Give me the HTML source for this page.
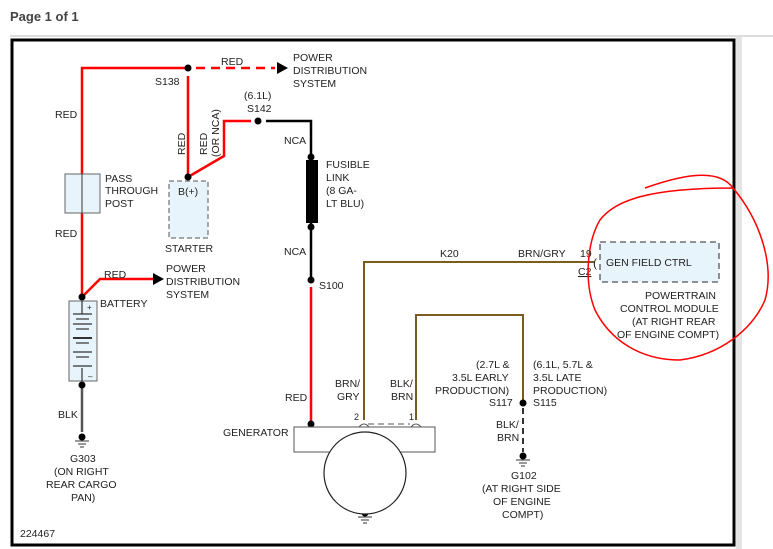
<!DOCTYPE html>
<html><head><meta charset="utf-8"><style>
html,body{margin:0;padding:0;background:#fff;width:773px;height:549px;overflow:hidden}
svg{display:block}
text{font-family:"Liberation Sans",sans-serif;font-size:10.5px;fill:#222}
</style></head><body>
<svg width="773" height="549" viewBox="0 0 773 549" xmlns="http://www.w3.org/2000/svg">
<rect width="773" height="549" fill="#fff"/>
<text x="10" y="21" style="font-size:13px;font-weight:bold;fill:#444">Page 1 of 1</text>
<line x1="10" y1="36" x2="773" y2="36" stroke="#ddd" stroke-width="2"/>
<rect x="736" y="37" width="6" height="512" fill="#e4e4e4"/>
<rect x="12" y="40" width="722" height="505" fill="none" stroke="#000" stroke-width="3"/>

<g stroke="#f00" stroke-width="2.5" fill="none">
<polyline points="82,297 82,68 188,68"/>
<line x1="196" y1="68" x2="275" y2="68" stroke-dasharray="9,6"/>
<line x1="188" y1="76" x2="188" y2="177"/>
<polyline points="188,177 224,156 224,121 251,121"/>
<line x1="311" y1="287" x2="311" y2="424"/>
<polyline points="82,297 100,279 155,279"/>
</g>
<polygon points="277,62 288,68 277,74" fill="#000"/>
<polygon points="153,273 164,279 153,285" fill="#000"/>
<g stroke="#000" stroke-width="2.5" fill="none">
<polyline points="266,121 311,121 311,279"/>
</g>
<rect x="306" y="160" width="12" height="63" fill="#000"/>
<line x1="82" y1="385" x2="82" y2="432" stroke="#555" stroke-width="2.5"/>
<g stroke="#7a5c1e" stroke-width="2" fill="none">
<polyline points="364,420 364,262 594,262"/>
<polyline points="416,420 416,315 523,315 523,403"/>
</g>
<line x1="523" y1="408" x2="523" y2="452" stroke="#333" stroke-width="2" stroke-dasharray="6,4"/>

<g fill="#000">
<circle cx="188" cy="68" r="3.5"/><circle cx="188" cy="177" r="3.5"/>
<circle cx="258" cy="121" r="3.5"/><circle cx="311" cy="157" r="3.5"/>
<circle cx="311" cy="227" r="3.5"/><circle cx="311" cy="280" r="3.5"/>
<circle cx="311" cy="424" r="3.5"/><circle cx="82" cy="297" r="3.5"/>
<circle cx="82" cy="385" r="3.5"/><circle cx="82" cy="193" r="3"/>
<circle cx="523" cy="403" r="3.5"/>
<circle cx="82" cy="437" r="3.5"/><circle cx="523" cy="456" r="3.5"/><circle cx="365" cy="513" r="3.5"/>
</g>
<g stroke="#333" stroke-width="1">
<line x1="75" y1="441" x2="89" y2="441"/><line x1="78" y1="444" x2="86" y2="444"/><line x1="80" y1="447" x2="84" y2="447"/>
<line x1="516" y1="460" x2="530" y2="460"/><line x1="519" y1="463" x2="527" y2="463"/><line x1="521" y1="466" x2="525" y2="466"/>
<line x1="358" y1="517" x2="372" y2="517"/><line x1="361" y1="520" x2="369" y2="520"/><line x1="363" y1="523" x2="367" y2="523"/>
</g>

<rect x="65" y="174" width="35" height="39" fill="#e8f4fc" stroke="#666"/>
<line x1="82" y1="174" x2="82" y2="213" stroke="#333"/>
<rect x="169" y="181" width="39" height="57" fill="#e8f4fc" stroke="#555" stroke-dasharray="5,3"/>
<rect x="69" y="301" width="28" height="80" fill="#e8f4fc" stroke="#666"/>
<g stroke="#333" stroke-width="1.2">
<line x1="82" y1="301" x2="82" y2="314"/><line x1="73" y1="314" x2="92" y2="314"/>
<line x1="76" y1="319" x2="89" y2="319"/><line x1="73" y1="324" x2="92" y2="324"/>
<line x1="76" y1="329" x2="89" y2="329"/><line x1="73" y1="338" x2="92" y2="338" stroke-width="2"/>
<line x1="76" y1="343" x2="89" y2="343"/><line x1="73" y1="352" x2="92" y2="352"/>
<line x1="76" y1="357" x2="89" y2="357"/><line x1="73" y1="366" x2="92" y2="366"/>
<line x1="82" y1="368" x2="82" y2="381"/>
</g>
<text x="87" y="310" style="font-size:8px">+</text><text x="88" y="379" style="font-size:8px">–</text>
<rect x="294" y="427" width="141" height="25" fill="#fff" stroke="#555"/>
<circle cx="365" cy="473" r="41" fill="#fff" stroke="#222" stroke-width="1.2"/>
<line x1="368" y1="424" x2="410" y2="424" stroke="#555" stroke-dasharray="6,4"/>
<path d="M359,427 q5,-6 10,0 M411,427 q5,-6 10,0" stroke="#555" fill="none"/>
<rect x="600" y="242" width="119" height="40" fill="#e8f4fc" stroke="#555" stroke-width="1.3" stroke-dasharray="6,4"/>
<text x="593" y="267" style="font-size:12px">(</text>

<text x="221" y="65">RED</text>
<text x="293" y="61">POWER</text><text x="293" y="74">DISTRIBUTION</text><text x="293" y="87">SYSTEM</text>
<text x="155" y="85">S138</text>
<text x="55" y="118">RED</text><text x="55" y="237">RED</text>
<text x="244" y="99">(6.1L)</text><text x="247" y="112">S142</text>
<text transform="translate(185,155) rotate(-90)">RED</text>
<text transform="translate(207,155) rotate(-90)">RED</text>
<text transform="translate(219,157) rotate(-90)">(OR NCA)</text>
<text x="284" y="144">NCA</text><text x="284" y="255">NCA</text>
<text x="326" y="168">FUSIBLE</text><text x="326" y="181">LINK</text><text x="326" y="194">(8 GA-</text><text x="326" y="207">LT BLU)</text>
<text x="105" y="182">PASS</text><text x="105" y="194">THROUGH</text><text x="105" y="207">POST</text>
<text x="178" y="195">B(+)</text><text x="165" y="252">STARTER</text>
<text x="104" y="278">RED</text>
<text x="166" y="272">POWER</text><text x="166" y="285">DISTRIBUTION</text><text x="166" y="298">SYSTEM</text>
<text x="100" y="307">BATTERY</text>
<text x="58" y="418">BLK</text>
<text x="70" y="462">G303</text><text x="54" y="475">(ON RIGHT</text><text x="46" y="488">REAR CARGO</text><text x="71" y="501">PAN)</text>
<text x="20" y="537">224467</text>
<text x="319" y="289">S100</text>
<text x="285" y="401">RED</text>
<text x="335" y="387">BRN/</text><text x="337" y="400">GRY</text>
<text x="390" y="387">BLK/</text><text x="391" y="400">BRN</text>
<text x="354" y="420" style="font-size:9px">2</text><text x="409" y="420" style="font-size:9px">1</text>
<text x="223" y="436">GENERATOR</text>
<text x="440" y="257">K20</text><text x="518" y="257">BRN/GRY</text>
<text x="580" y="257">19</text><text x="578" y="275" text-decoration="underline">C2</text>
<text x="606" y="266">GEN FIELD CTRL</text>
<text x="645" y="299">POWERTRAIN</text><text x="620" y="312">CONTROL MODULE</text>
<text x="632" y="325">(AT RIGHT REAR</text><text x="617" y="338">OF ENGINE COMPT)</text>
<text x="476" y="368">(2.7L &amp;</text><text x="452" y="381">3.5L EARLY</text><text x="435" y="394">PRODUCTION)</text>
<text x="489" y="406">S117</text>
<text x="533" y="368">(6.1L, 5.7L &amp;</text><text x="533" y="381">3.5L LATE</text><text x="533" y="394">PRODUCTION)</text>
<text x="533" y="406">S115</text>
<text x="496" y="428">BLK/</text><text x="497" y="441">BRN</text>
<text x="511" y="479">G102</text><text x="482" y="492">(AT RIGHT SIDE</text><text x="493" y="505">OF ENGINE</text><text x="502" y="518">COMPT)</text>

<path d="M645,188 C690,172 720,170 733,188 C760,220 775,265 765,300 C752,330 720,355 680,360 C640,360 610,340 595,310 C583,280 588,240 600,220 C615,200 650,188 733,188" fill="none" stroke="#f00" stroke-width="1.5"/>
</svg>
</body></html>
